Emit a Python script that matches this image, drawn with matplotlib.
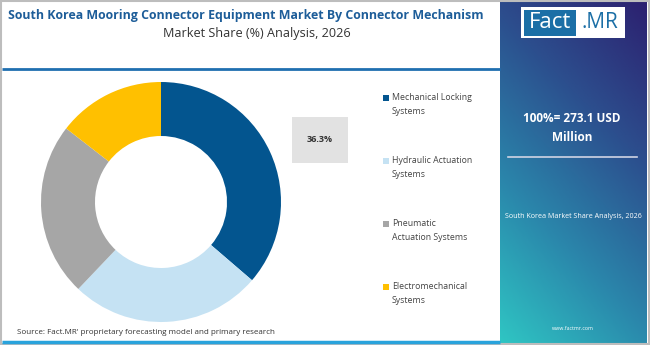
import numpy as np
import matplotlib.pyplot as plt
from matplotlib.colors import LinearSegmentedColormap
from matplotlib.patches import Rectangle

plt.rcParams['font.family'] = ['Open Sans', 'DejaVu Sans']

# data
categories = ['Mechanical Locking\nSystems', 'Hydraulic Actuation\nSystems',
              'Pneumatic\nActuation Systems', 'Electromechanical\nSystems']
shares = [36.3, 25.8, 23.4, 14.5]
colors = ['#03558f', '#c5e2f3', '#a6a6a6', '#ffc000']

title = 'South Korea Mooring Connector Equipment Market By Connector Mechanism'
subtitle = 'Market Share (%) Analysis, 2026'
total_text = '100%= 273.1 USD\nMillion'
side_note = 'South Korea Market Share Analysis, 2026'
source = "Source: Fact.MR' proprietary forecasting model and primary research"

W, H = 650, 345
fig = plt.figure(figsize=(W / 100, H / 100), dpi=100)

# background axes in pixel coords
bg = fig.add_axes([0, 0, 1, 1])
bg.set_xlim(0, W)
bg.set_ylim(H, 0)
bg.axis('off')

# right gradient panel
cmap = LinearSegmentedColormap.from_list('fm', ['#2fc5c3', '#2a86ab', '#2c4f8e', '#2c2170'])
gx, gy = np.meshgrid(np.linspace(0, 1, 100), np.linspace(0, 1, 200))
grad = 0.8 * (1 - gy) + 0.35 * gx
bg.imshow(grad, cmap=cmap, extent=[500, 647, 343, 2], aspect='auto', zorder=0)

# logo
bg.add_patch(Rectangle((521, 7), 104, 31, facecolor='white', edgecolor='none', zorder=2))
bg.add_patch(Rectangle((524, 9.5), 52, 26, facecolor='#1b6fa6', edgecolor='none', zorder=3))
bg.text(550, 23, 'Fact', color='white', fontsize=16, ha='center', va='center', zorder=4)
bg.text(600, 23, '.MR', color='#1b6fa6', fontsize=15, ha='center', va='center', zorder=4)

bg.text(572, 128, total_text, color='white', fontsize=8.5, fontweight='bold',
        ha='center', va='center', linespacing=1.6, zorder=4)
bg.plot([508, 637], [157, 157], color='#d0d4e4', lw=1.2, zorder=4)
bg.text(573, 217, side_note, color='white', fontsize=5.1, ha='center', va='center', zorder=4)
bg.text(573, 329, 'www.factmr.com', color='white', fontsize=3.8, ha='center', va='center', zorder=4)

# header
bg.text(246, 16, title, color='#1d5d99', fontsize=8.9, fontweight='bold', ha='center', va='center')
bg.text(257, 33, subtitle, color='#333333', fontsize=9.1, ha='center', va='center')
bg.plot([2, 500], [69, 69], color='#1f6fb0', lw=2, solid_capstyle='butt')
bg.plot([2, 500], [342, 342], color='#29a3dc', lw=2.5, solid_capstyle='butt')

# value box
bg.add_patch(Rectangle((292, 117), 56, 46, facecolor='#e2e2e2', edgecolor='none'))
bg.text(320, 140, f'{shares[0]}%', fontsize=6.5, fontweight='bold', color='#333333',
        ha='center', va='center')

# legend
leg_y = [98, 161, 224, 287]
for lab, col, y in zip(categories, colors, leg_y):
    bg.add_patch(Rectangle((382.5, y - 3), 6, 6, facecolor=col, edgecolor='none'))
    bg.text(392, y - 5, lab, fontsize=6.3, color='#444444', ha='left', va='top', linespacing=1.75)

bg.text(17, 332, source, fontsize=5.8, color='#333333', ha='left', va='center')

# frame
bg.add_patch(Rectangle((0.5, 0.5), W - 1.5, H - 1.5, facecolor='none', edgecolor='#bdbdbd', lw=1.5))

# donut
cx, cy, r = 161, 202, 120
ax = fig.add_axes([(cx - r) / W, (H - cy - r) / H, 2 * r / W, 2 * r / H])
ax.pie(shares, colors=colors, startangle=90, counterclock=False, radius=1,
       wedgeprops=dict(width=0.45, edgecolor='none'))
ax.set_xlim(-1, 1)
ax.set_ylim(-1, 1)
ax.set_aspect('equal')
ax.axis('off')

fig.savefig('out.png', dpi=100)
